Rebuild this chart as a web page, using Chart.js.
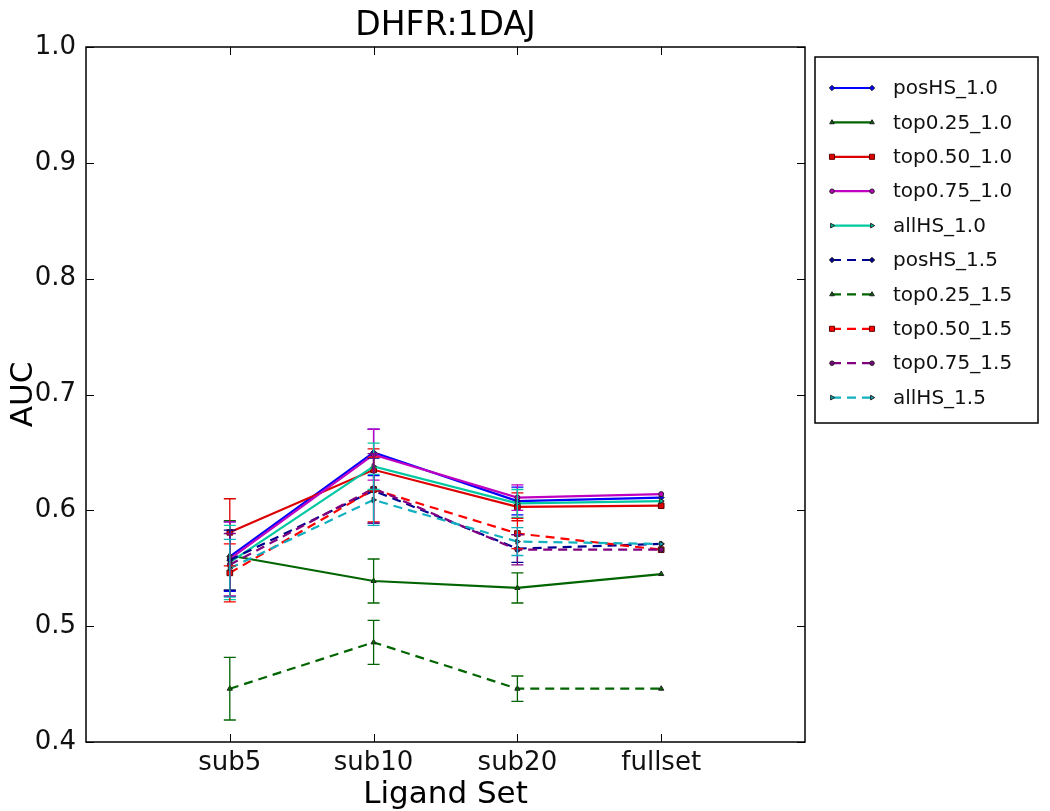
<!DOCTYPE html>
<html><head><meta charset="utf-8">
<script src="https://cdn.jsdelivr.net/npm/chart.js@4/dist/chart.umd.min.js"></script>
<style>html,body{margin:0;padding:0;background:#fff}#wrap{width:1050px;height:811px}</style>
</head><body><div id="wrap"><canvas id="c" width="1050" height="811"></canvas></div>
<script>
const categories = ["sub5","sub10","sub20","fullset"];
const yTicks = [0.4,0.5,0.6,0.7,0.8,0.9,1.0];
const seriesNames = ["posHS_1.0","top0.25_1.0","top0.50_1.0","top0.75_1.0","allHS_1.0","posHS_1.5","top0.25_1.5","top0.50_1.5","top0.75_1.5","allHS_1.5"];
const posHS_10   = [0.560,0.650,0.608,0.611];
const top025_10  = [0.561,0.539,0.533,0.545];
const top050_10  = [0.581,0.635,0.603,0.604];
const top075_10  = [0.558,0.648,0.611,0.614];
const allHS_10   = [0.555,0.638,0.606,0.608];
const posHS_15   = [0.557,0.617,0.567,0.571];
const top025_15  = [0.446,0.486,0.446,0.446];
const top050_15  = [0.546,0.618,0.580,0.566];
const top075_15  = [0.553,0.619,0.566,0.566];
const allHS_15   = [0.550,0.609,0.573,0.571];
const err_posHS_10  = [0.030,0.020,0.012,0];
const err_top025_10 = [0.030,0.019,0.013,0];
const err_top050_10 = [0.029,0.018,0.012,0];
const err_top075_10 = [0.032,0.022,0.011,0];
const err_allHS_10  = [0.032,0.020,0.012,0];
const err_posHS_15  = [0.026,0.028,0.012,0];
const err_top025_15 = [0.027,0.019,0.011,0];
const err_top050_15 = [0.025,0.028,0.013,0];
const err_top075_15 = [0.027,0.030,0.013,0];
const err_allHS_15  = [0.025,0.022,0.012,0];

const values = [posHS_10,top025_10,top050_10,top075_10,allHS_10,posHS_15,top025_15,top050_15,top075_15,allHS_15];
const errors = [err_posHS_10,err_top025_10,err_top050_10,err_top075_10,err_allHS_10,err_posHS_15,err_top025_15,err_top050_15,err_top075_15,err_allHS_15];
const colors = ["#0000ff","#006400","#dd0000","#c000c0","#00c8a0","#000090","#006400","#ff0000","#800080","#10b0c0"];
const pstyles = ["rectRot","triangle","rect","circle","triangle","rectRot","triangle","rect","circle","triangle"];
const prot = [0,0,0,0,90,0,0,0,0,90];
const prad = [3,3,4,2.5,3,3,3,4,2.5,3];

const FONT = "'DejaVu Sans', 'Liberation Sans', sans-serif";

const datasets = values.map((v,i)=>({
  label: seriesNames[i],
  data: v.map((y,j)=>({x:j+1,y:y})),
  borderColor: colors[i],
  backgroundColor: colors[i],
  borderWidth: 2.2,
  borderDash: i>=5 ? [9,6] : [],
  pointStyle: pstyles[i],
  pointRotation: prot[i],
  pointRadius: prad[i],
  pointBorderColor: i===2||i===7 ? "#600000" : "#222",
  pointBorderWidth: 1,
  pointBackgroundColor: colors[i],
  tension: 0,
  order: values.length - i
}));

const decor = {
  id: 'decor',
  afterDatasetsDraw(chart){
    const ctx = chart.ctx, xs = chart.scales.x, ys = chart.scales.y;
    values.forEach((v,i)=>{
      ctx.save();
      ctx.strokeStyle = colors[i];
      ctx.lineWidth = 1.3;
      v.forEach((y,j)=>{
        const e = errors[i][j];
        if(!e) return;
        const px = xs.getPixelForValue(j+1);
        const t = ys.getPixelForValue(y+e), b = ys.getPixelForValue(y-e);
        ctx.beginPath();
        ctx.moveTo(px,t); ctx.lineTo(px,b);
        ctx.moveTo(px-6,t); ctx.lineTo(px+6,t);
        ctx.moveTo(px-6,b); ctx.lineTo(px+6,b);
        ctx.stroke();
      });
      ctx.restore();
    });
  },
  afterDraw(chart){
    const ctx = chart.ctx, xs = chart.scales.x, ys = chart.scales.y, a = chart.chartArea;
    ctx.save();
    ctx.strokeStyle = "#000"; ctx.lineWidth = 1.5;
    ctx.strokeRect(a.left, a.top, a.right-a.left, a.bottom-a.top);
    ctx.lineWidth = 1;
    categories.forEach((c,j)=>{
      const px = Math.round(xs.getPixelForValue(j+1))+0.5;
      ctx.beginPath();
      ctx.moveTo(px,a.bottom); ctx.lineTo(px,a.bottom-8);
      ctx.moveTo(px,a.top); ctx.lineTo(px,a.top+8);
      ctx.stroke();
    });
    yTicks.forEach(t=>{
      const py = Math.round(ys.getPixelForValue(t))+0.5;
      ctx.beginPath();
      ctx.moveTo(a.left,py); ctx.lineTo(a.left+8,py);
      ctx.moveTo(a.right,py); ctx.lineTo(a.right-8,py);
      ctx.stroke();
    });
    ctx.fillStyle = "#000";
    ctx.textAlign = "center"; ctx.textBaseline = "alphabetic";
    ctx.font = "33px " + FONT;
    ctx.fillText("DHFR:1DAJ", (a.left+a.right)/2, 35);
    ctx.font = "31px " + FONT;
    ctx.fillText("Ligand Set", (a.left+a.right)/2, 803);
    ctx.save();
    ctx.translate(32, (a.top+a.bottom)/2);
    ctx.rotate(-Math.PI/2);
    ctx.fillText("AUC", 0, 0);
    ctx.restore();
    // legend
    const lx = 815, ly = 57, lw = 223, lh = 366;
    ctx.fillStyle = "#fff";
    ctx.fillRect(lx,ly,lw,lh);
    ctx.strokeStyle = "#000"; ctx.lineWidth = 1.5;
    ctx.strokeRect(lx,ly,lw,lh);
    ctx.font = "20px " + FONT;
    ctx.textAlign = "left"; ctx.textBaseline = "middle";
    seriesNames.forEach((n,i)=>{
      const y = 88 + i*34.4;
      ctx.save();
      ctx.strokeStyle = colors[i]; ctx.lineWidth = 2.2;
      ctx.setLineDash(i>=5 ? [9,6] : []);
      ctx.beginPath(); ctx.moveTo(832,y); ctx.lineTo(872,y); ctx.stroke();
      ctx.setLineDash([]);
      ctx.fillStyle = colors[i];
      ctx.strokeStyle = i===2||i===7 ? "#600000" : "#222";
      ctx.lineWidth = 1;
      [832,872].forEach(px=>{
        Chart.helpers.drawPoint(ctx,{pointStyle:pstyles[i],radius:prad[i]*0.9,rotation:prot[i],borderWidth:1},px,y);
      });
      ctx.restore();
      ctx.fillStyle = "#111";
      ctx.fillText(n, 893, y+1);
    });
    ctx.restore();
  }
};

new Chart(document.getElementById('c'), {
  type: 'line',
  data: { datasets },
  options: {
    responsive: false,
    animation: false,
    layout: { padding: { left: 0, top: 47, right: 245, bottom: 0 } },
    plugins: { legend: { display: false }, title: { display: false }, tooltip: { enabled: false } },
    scales: {
      x: {
        type: 'linear', min: 0, max: 5,
        afterFit(s){ s.height = 69; },
        afterBuildTicks(s){ s.ticks = categories.map((c,j)=>({value:j+1})); },
        grid: { display: false, drawTicks: false },
        border: { display: false },
        ticks: { callback: v => categories[v-1] || '', color: '#111', font: { size: 26, family: FONT }, padding: 6, maxRotation: 0, autoSkip: false }
      },
      y: {
        min: 0.4, max: 1.0,
        afterFit(s){ s.width = 86; },
        afterBuildTicks(s){ s.ticks = yTicks.map(v=>({value:v})); },
        grid: { display: false, drawTicks: false },
        border: { display: false },
        ticks: { callback: v => v.toFixed(1), color: '#111', font: { size: 26, family: FONT }, padding: 10 }
      }
    }
  },
  plugins: [decor]
});
</script></body></html>
